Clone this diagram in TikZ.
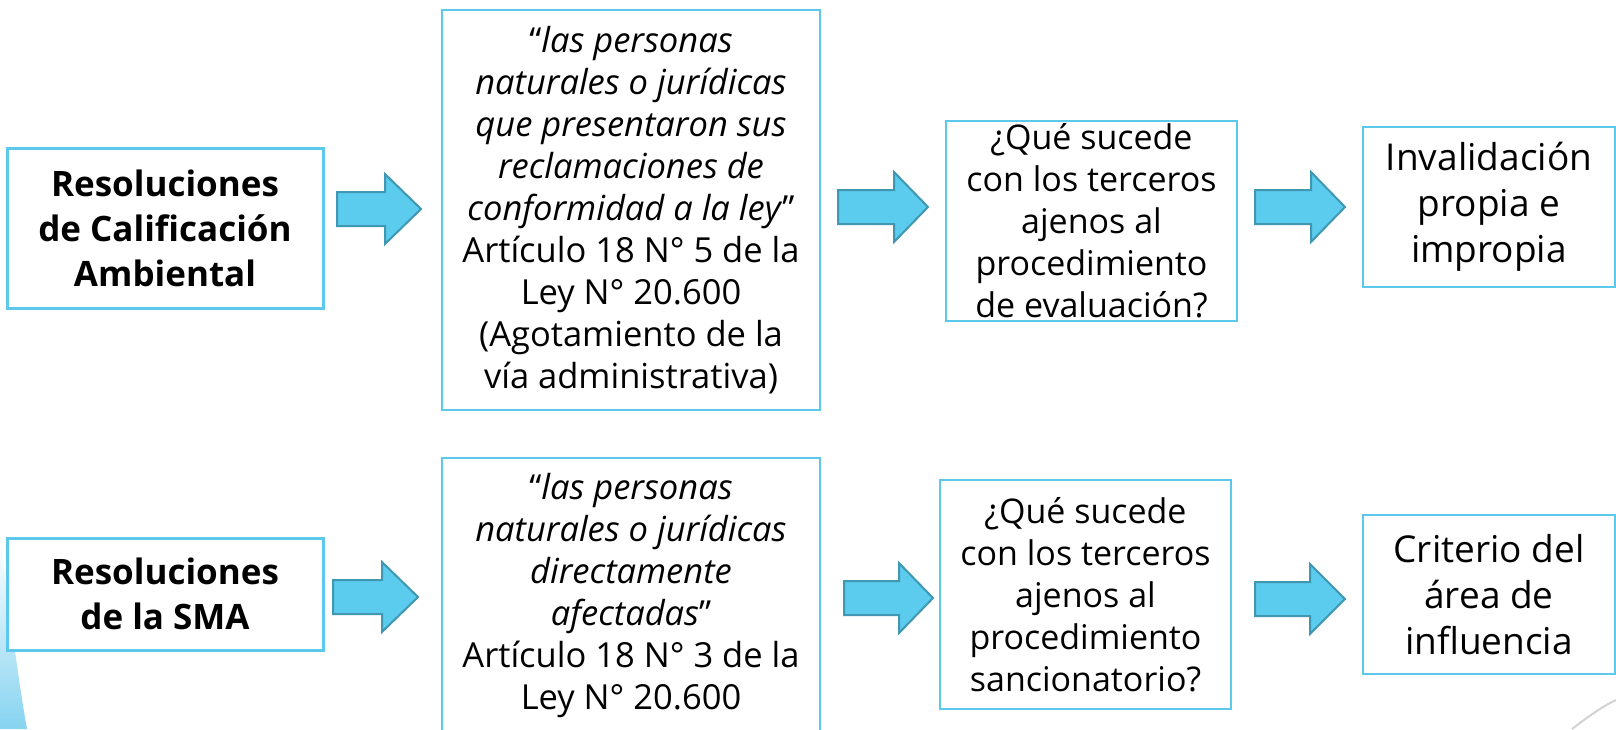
\documentclass[tikz,border=0pt]{standalone}
\usepackage{fontspec}
\setmainfont{Open Sans}
\definecolor{boxc}{HTML}{5BC8EC}
\definecolor{arrf}{HTML}{5BCBEE}
\definecolor{arrd}{HTML}{3F97B2}
\definecolor{swoosh}{HTML}{86D3F0}
\newcommand\blockarr[4]{%
  \draw[arr] (#1,#4-17) -- (#2,#4-17) -- (#2,#4-35) -- (#3,#4) -- (#2,#4+35) -- (#2,#4+17) -- (#1,#4+17) -- cycle;}
\begin{document}
\begin{tikzpicture}[x=1pt,y=-1pt,
  box/.style={draw=boxc, line width=2pt, fill=white, inner sep=0pt, align=center,
    font=\fontsize{34.5}{42}\selectfont},
  boxA/.style={box, line width=3pt, font=\bfseries\fontsize{35}{45}\selectfont},
  boxC/.style={box, font=\fontsize{34}{42}\selectfont},
  boxD/.style={box, font=\fontsize{37}{46}\selectfont},
  arr/.style={fill=arrf, draw=arrd, line width=2pt, line join=miter}]
\useasboundingbox (0,0) rectangle (1616,729);
\fill[white] (0,0) rectangle (1616,729);
% background decorations
\shade[top color=white, bottom color=swoosh] (0,540) .. controls (10,610) and (18,680) .. (27,729) -- (0,729) -- cycle;
\draw[gray!35, line width=2pt] (1572,729) .. controls (1590,715) and (1605,705) .. (1616,700);
% top row
\node[boxA, minimum width=316pt, minimum height=160pt] (a1) at (165,228)
  {Resoluciones\\de Calificación\\Ambiental};
\node[box, minimum width=378pt, minimum height=400pt] (b1) at (631,210)
  {“\textit{las personas}\\\textit{naturales o jurídicas}\\\textit{que presentaron sus}\\\textit{reclamaciones de}\\\textit{conformidad a la ley}”\\Artículo 18 N° 5 de la\\Ley N° 20.600\\(Agotamiento de la\\vía administrativa)};
\node[boxC, minimum width=291pt, minimum height=200pt] (c1) at (1091.5,221)
  {¿Qué sucede\\con los terceros\\ajenos al\\procedimiento\\de evaluación?};
\node[boxD, minimum width=252pt, minimum height=160pt] (d1) at (1489,207)
  {Invalidación\\propia e\\impropia};
% bottom row
\node[boxA, minimum width=316pt, minimum height=112pt] (a2) at (165,594)
  {Resoluciones\\de la SMA};
\node[box, minimum width=378pt, minimum height=276pt] (b2) at (631,596)
  {“\textit{las personas}\\\textit{naturales o jurídicas}\\\textit{directamente}\\\textit{afectadas}”\\Artículo 18 N° 3 de la\\Ley N° 20.600};
\node[boxC, minimum width=291pt, minimum height=229pt] (c2) at (1085.5,594.5)
  {¿Qué sucede\\con los terceros\\ajenos al\\procedimiento\\sancionatorio?};
\node[boxD, minimum width=252pt, minimum height=159pt] (d2) at (1489,594.5)
  {Criterio del\\área de\\influencia};
% block arrows
\blockarr{337}{385}{421}{209}
\blockarr{838}{894}{928}{207}
\blockarr{1255}{1311}{1345}{207}
\blockarr{333}{382}{418}{597}
\blockarr{844}{899}{933}{598}
\blockarr{1255}{1310}{1345}{599}
\end{tikzpicture}
\end{document}
